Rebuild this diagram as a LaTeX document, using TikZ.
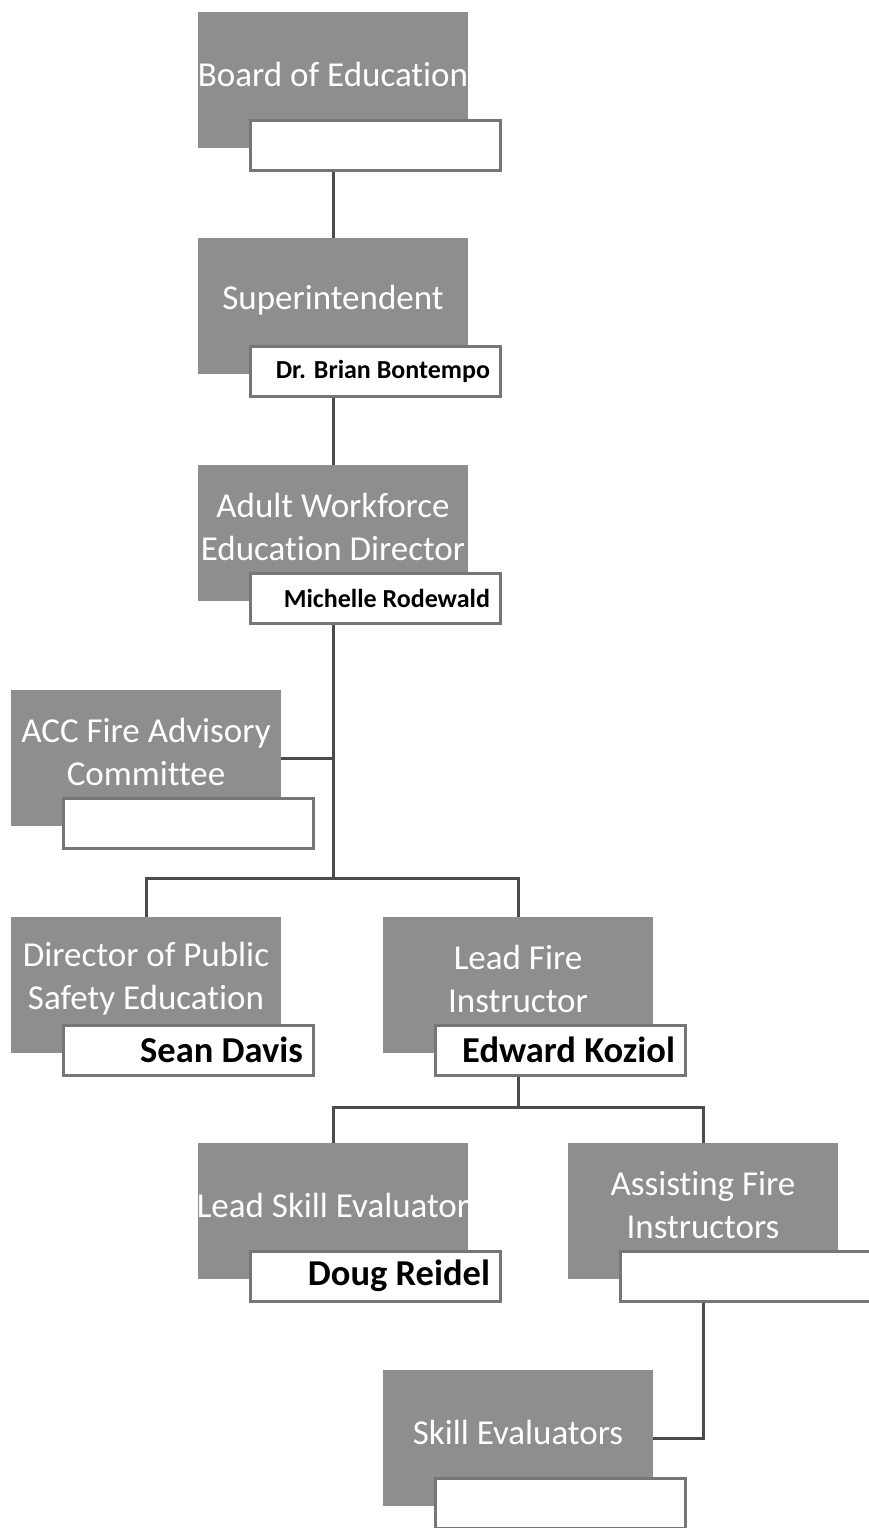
\documentclass[tikz,border=0pt]{standalone}
\usepackage{fontspec}
\setmainfont{Carlito}[Ligatures=CommonOff]
\definecolor{boxgray}{RGB}{142,142,142}
\definecolor{framegray}{RGB}{118,118,118}
\definecolor{linegray}{RGB}{75,75,75}
\begin{document}
\begin{tikzpicture}[x=1pt, y=-1pt,
    role/.style={fill=boxgray, minimum width=270pt, minimum height=136pt, inner sep=0pt},
    roletext/.style={text=white, align=center, font=\fontsize{35}{43}\selectfont},
    namebox/.style={draw=framegray, line width=3pt, fill=white,
                    minimum width=250pt, minimum height=50pt, inner sep=0pt},
    smallname/.style={anchor=east, font=\bfseries\fontsize{26}{30}\selectfont},
    bigname/.style={anchor=east, font=\bfseries\fontsize{36.5}{40}\selectfont},
    link/.style={draw=linegray, line width=3pt}]
    \path[use as bounding box, fill=white] (0,0) rectangle (868,1528);

    % ── Dirección (arriba) ────────────────────────────────────────────
    \node[role] (bod) at (333, 80) {};
    \node[namebox] (bod-n) at (375,145) {};
    \node[roletext] (bod-t) at ([yshift=6pt]bod.center) {Board of Education};

    \node[role] (sup) at (333,306) {};
    \node[namebox] (sup-n) at (375,371) {};
    \node[roletext] (sup-t) at ([yshift=6pt]sup.center) {Superintendent};
    \node[smallname] at ([xshift=-8pt]sup-n.east) {Dr. Brian Bontempo};

    \node[role] (awd) at (333,533) {};
    \node[namebox] (awd-n) at (375,598) {};
    \node[roletext] (awd-t) at ([yshift=6pt]awd.center) {Adult Workforce\\Education Director};
    \node[smallname] at ([xshift=-8pt]awd-n.east) {Michelle Rodewald};

    \draw[link] (bod.south |- bod-n.south) -- (sup.north);
    \draw[link] (sup.south |- sup-n.south) -- (awd.north);

    % ── Comité y direcciones (centro) ─────────────────────────────────
    \node[role] (acc) at (146,758) {};
    \node[namebox] (acc-n) at (188,823) {};
    \node[roletext] (acc-t) at ([yshift=6pt]acc.center) {ACC Fire Advisory\\Committee};

    \node[role] (dpse) at (146,985) {};
    \node[namebox] (dpse-n) at (188,1050) {};
    \node[roletext] (dpse-t) at ([yshift=6pt]dpse.center) {Director of Public\\Safety Education};
    \node[bigname] at ([xshift=-8pt]dpse-n.east) {Sean Davis};

    \node[role] (lfi) at (518,985) {};
    \node[namebox] (lfi-n) at (560,1050) {};
    \node[roletext] (lfi-t) at ([yshift=6pt]lfi.center) {Lead Fire\\Instructor};
    \node[bigname] at ([xshift=-8pt]lfi-n.east) {Edward Koziol};

    \coordinate (split1) at (333,878);
    \draw[link] (awd.south |- awd-n.south) -- (split1);
    \draw[link] (acc.east) -- (acc.east -| split1);
    \draw[link] (dpse.north) |- (split1) -| (lfi.north);

    % ── Instructores y evaluadores (abajo) ────────────────────────────
    \node[role] (lse) at (333,1211) {};
    \node[namebox] (lse-n) at (375,1276) {};
    \node[roletext] (lse-t) at ([yshift=6pt]lse.center) {Lead Skill Evaluator};
    \node[bigname] at ([xshift=-8pt]lse-n.east) {Doug Reidel};

    \node[role] (afi) at (703,1211) {};
    \node[namebox] (afi-n) at (745,1276) {};
    \node[roletext] (afi-t) at ([yshift=6pt]afi.center) {Assisting Fire\\Instructors};

    \node[role] (se) at (518,1438) {};
    \node[namebox] (se-n) at (560,1503) {};
    \node[roletext] (se-t) at ([yshift=6pt]se.center) {Skill Evaluators};

    \coordinate (split2) at (518,1107);
    \draw[link] (lfi.south |- lfi-n.south) -- (split2);
    \draw[link] (lse.north) |- (split2) -| (afi.north);
    \draw[link] (afi.south |- afi-n.south) |- (se.east);
  \end{tikzpicture}
\end{document}
